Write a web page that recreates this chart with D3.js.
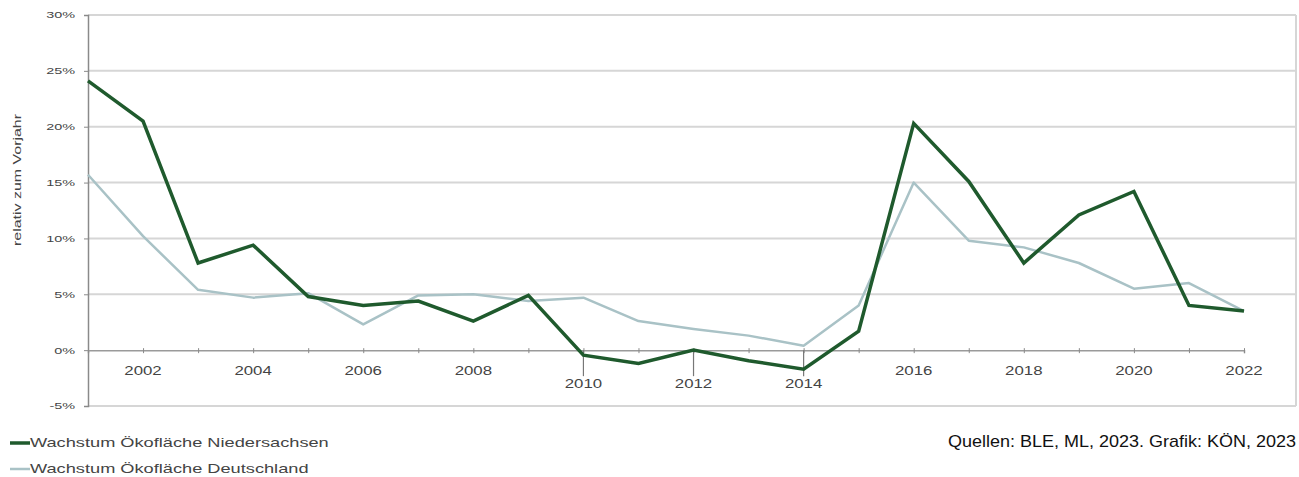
<!DOCTYPE html>
<html>
<head>
<meta charset="utf-8">
<script src="https://cdn.jsdelivr.net/npm/d3@7"></script>
<style>
  body { margin: 0; background: #fff; }
  svg { display: block; font-family: "Liberation Sans", Arial, sans-serif; }
</style>
</head>
<body>
<div id="chart"></div>
<script>
// Data (growth of organic area, % vs previous year)
let years = d3.range(2001, 2023);
let niedersachsen = [24.1, 20.5, 7.8, 9.4, 4.8, 4.0, 4.4, 2.6, 4.9, -0.45, -1.2, 0.0, -0.95, -1.7, 1.7, 20.3, 15.1, 7.8, 12.1, 14.2, 4.0, 3.5];
let deutschland = [15.7, 10.2, 5.4, 4.7, 5.1, 2.3, 4.9, 5.0, 4.4, 4.7, 2.6, 1.9, 1.3, 0.4, 4.0, 15.0, 9.8, 9.2, 7.8, 5.5, 6.0, 3.5];
let yTicks = [-5, 0, 5, 10, 15, 20, 25, 30];
let xLabelYears = [2002, 2004, 2006, 2008, 2010, 2012, 2014, 2016, 2018, 2020, 2022];
let loweredLabels = [2010, 2012, 2014];
let seriesNames = ["Wachstum Ökofläche Niedersachsen", "Wachstum Ökofläche Deutschland"];
let seriesColors = ["#1f5a2d", "#a9c2c6"];

let width = 1299, height = 477;
let plotLeft = 88, plotRight = 1296;

let svg = d3.select("#chart")
  .append("svg")
  .attr("width", width)
  .attr("height", height);

// Scales
let x = d3.scaleLinear()
  .domain([2001, 2022])
  .range([plotLeft, 1244]);

let y = d3.scaleLinear()
  .domain([-5, 30])
  .range([406, 15]);

// stretch text horizontally like the blurry original
function stretch(sel, k) {
  sel.each(function() {
    let w = this.getComputedTextLength();
    d3.select(this).attr("textLength", w * k).attr("lengthAdjust", "spacingAndGlyphs");
  });
}

// gridlines
svg.append("g")
  .attr("class", "grid")
  .selectAll("line")
  .data(yTicks.filter(d => d !== 0))
  .join("line")
    .attr("x1", plotLeft)
    .attr("x2", plotRight)
    .attr("y1", d => y(d))
    .attr("y2", d => y(d))
    .attr("stroke", "#d6d6d6")
    .attr("stroke-width", 2);

// right frame
svg.append("line")
  .attr("x1", plotRight).attr("x2", plotRight)
  .attr("y1", y(30)).attr("y2", y(-5))
  .attr("stroke", "#d6d6d6")
  .attr("stroke-width", 2);

// y-axis
let yAxis = d3.axisLeft(y)
  .tickValues(yTicks)
  .tickSize(4)
  .tickPadding(9)
  .tickFormat(d => d + "%");

let yAxisEl = svg.append("g")
  .attr("class", "y axis")
  .attr("transform", "translate(" + plotLeft + ",0)")
  .call(yAxis);
yAxisEl.select(".domain").attr("stroke", "#8a8a8a").attr("stroke-width", 1.5);
yAxisEl.selectAll(".tick line").attr("stroke", "#8a8a8a");
yAxisEl.selectAll(".tick text")
  .attr("fill", "#444")
  .style("font-size", "9px")
  .call(stretch, 1.6);

// x-axis at 0%
let xAxis = d3.axisBottom(x)
  .tickValues(years)
  .tickSize(3)
  .tickFormat("");

let xAxisEl = svg.append("g")
  .attr("class", "x axis")
  .attr("transform", "translate(0," + y(0) + ")")
  .call(xAxis);
xAxisEl.select(".domain").attr("stroke", "#9a9a9a").attr("stroke-width", 1.5);
xAxisEl.selectAll(".tick line").attr("stroke", "#8a8a8a").attr("y1", -2);

// long ticks for the lowered labels
xAxisEl.selectAll(".longtick")
  .data(loweredLabels)
  .join("line")
    .attr("class", "longtick")
    .attr("x1", d => x(d)).attr("x2", d => x(d))
    .attr("y1", 0).attr("y2", 26)
    .attr("stroke", "#777")
    .attr("stroke-width", 1.2);

xAxisEl.selectAll(".xlabel")
  .data(xLabelYears)
  .join("text")
    .attr("class", "xlabel")
    .attr("x", d => x(d))
    .attr("y", d => loweredLabels.includes(d) ? 38 : 25)
    .attr("text-anchor", "middle")
    .attr("fill", "#444")
    .style("font-size", "12px")
    .text(d => d)
    .call(stretch, 1.4);

// y title
svg.append("text")
  .attr("transform", "translate(21,180) rotate(-90)")
  .attr("text-anchor", "middle")
  .attr("fill", "#444")
  .style("font-size", "11px")
  .text("relativ zum Vorjahr")
  .call(stretch, 1.45);

// lines
let line = d3.line()
  .x((d, i) => x(years[i]))
  .y(d => y(d));

svg.append("path")
  .datum(deutschland)
  .attr("fill", "none")
  .attr("stroke", seriesColors[1])
  .attr("stroke-width", 2.5)
  .attr("stroke-linejoin", "round")
  .attr("d", line);

svg.append("path")
  .datum(niedersachsen)
  .attr("fill", "none")
  .attr("stroke", seriesColors[0])
  .attr("stroke-width", 3.5)
  .attr("stroke-linejoin", "miter")
  .attr("d", line);

// legend
let legend = svg.append("g").attr("class", "legend");
let legendItems = legend.selectAll("g")
  .data(seriesNames)
  .join("g")
    .attr("transform", (d, i) => "translate(10," + (443 + i * 26) + ")");

legendItems.append("line")
  .attr("x1", 0).attr("x2", 20)
  .attr("stroke", (d, i) => seriesColors[i])
  .attr("stroke-width", (d, i) => i === 0 ? 3.5 : 2.5);

legendItems.append("text")
  .attr("x", 20)
  .attr("y", 4)
  .attr("fill", "#444")
  .style("font-size", "13px")
  .text(d => d)
  .call(stretch, 1.4);

// source
svg.append("text")
  .attr("x", 948)
  .attr("y", 447)
  .attr("fill", "#111")
  .style("font-size", "17px")
  .attr("textLength", 348)
  .attr("lengthAdjust", "spacingAndGlyphs")
  .text("Quellen: BLE, ML, 2023. Grafik: KÖN, 2023");
</script>
</body>
</html>
